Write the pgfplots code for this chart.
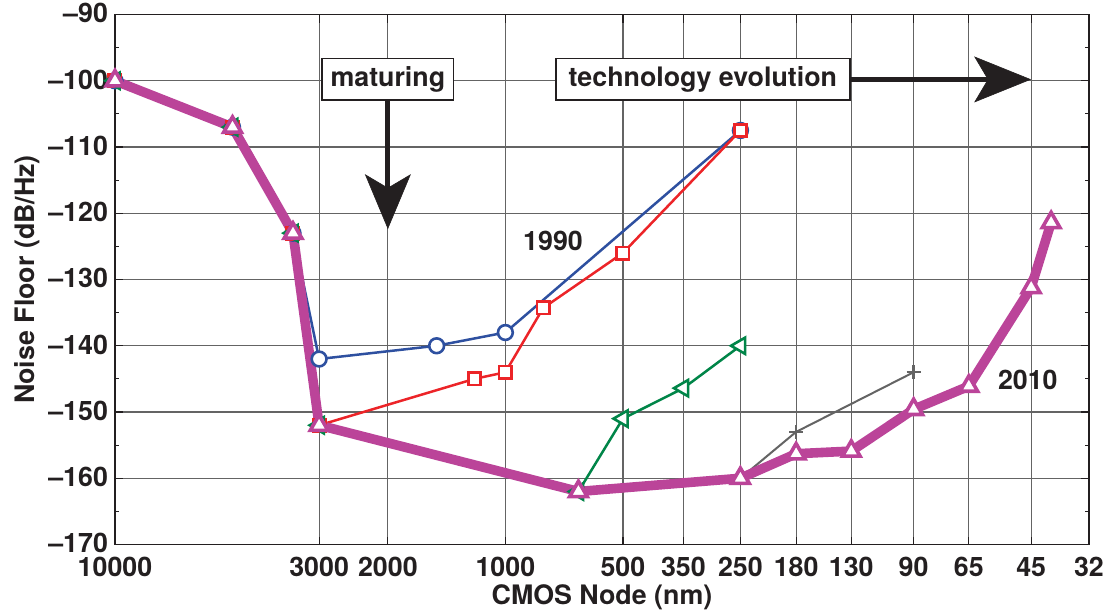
\documentclass[border=0pt]{standalone}
\usepackage{fontspec}
\setmainfont{TeX Gyre Heros}
\usepackage{pgfplots}
\pgfplotsset{compat=1.18}
\usetikzlibrary{arrows.meta}

\definecolor{ink}{RGB}{35,31,32}
\definecolor{nblue}{RGB}{46,80,160}
\definecolor{nred}{RGB}{236,36,40}
\definecolor{ngreen}{RGB}{0,133,72}
\definecolor{ngray}{RGB}{100,100,100}
\definecolor{nmag}{RGB}{187,68,153}
\definecolor{gridc}{RGB}{100,100,100}

\newcommand{\lbl}{\fontsize{13.4}{16}\selectfont\bfseries}

\begin{document}
\begin{tikzpicture}
\begin{axis}[
  scale only axis, width=487pt, height=265pt,
  xmode=log, log basis x=10, x dir=reverse,
  xmin=32, xmax=10000, ymin=-170, ymax=-90,
  clip=false,
  xtick={10000,3000,2000,1000,500,350,250,180,130,90,65,45,32},
  xticklabels={10000,3000,2000,1000,500,350,250,180,130,90,65,45,32},
  minor xtick={},
  ytick={-170,-160,...,-90},
  yticklabels={\textendash170,\textendash160,\textendash150,\textendash140,\textendash130,\textendash120,\textendash110,\textendash100,\textendash90},
  minor ytick={-165,-155,...,-95},
  /pgf/number format/assume math mode=true,
  grid=major,
  major grid style={gridc, line width=0.6pt},
  tick align=inside,
  major tick length=4pt, minor tick length=2.2pt,
  tick style={ink, line width=0.6pt},
  axis line style={ink, line width=0.85pt},
  ticklabel style={font=\lbl, text=ink},
  xticklabel style={inner ysep=0pt, yshift=-6.2pt},
  yticklabel style={inner ysep=0pt, yshift=0.6pt},
  label style={font=\lbl, text=ink},
  xlabel={CMOS Node (nm)},
  ylabel={Noise Floor (dB/Hz)},
  xlabel style={at={(axis description cs:0.5,-0.0986)}, anchor=center},
  ylabel style={at={(axis description cs:-0.0903,0.5)}, anchor=center},
]

% 1990 process generation
\addplot[nblue, line width=1.25pt, mark=*, mark size=3.7pt,
  mark options={fill=white, draw=nblue, line width=1.3pt}] coordinates {
  (10000,-100) (5000,-107) (3500,-123) (3000,-142)
  (1500,-140) (1000,-138) (250,-107.5)
};

\addplot[nred, line width=1.25pt, mark=square*, mark size=3.1pt,
  mark options={fill=white, draw=nred, line width=1.3pt}] coordinates {
  (10000,-100) (5000,-107) (3500,-123) (3000,-152)
  (1200,-145) (1000,-144) (800,-134.3) (500,-126) (250,-107.5)
};

\addplot[ngreen, line width=1.25pt, mark=triangle*, mark size=4.7pt,
  mark options={fill=white, draw=ngreen, line width=1.3pt, rotate=90}] coordinates {
  (10000,-100) (5000,-107) (3500,-123) (3000,-152)
  (650,-162) (500,-151) (350,-146.4) (250,-140)
};

\addplot[ngray, line width=1pt, mark=+, mark size=3.5pt,
  mark options={ngray, line width=1.2pt}] coordinates {
  (250,-160) (180,-153) (90,-144)
};

% 2010 process generation
\addplot[nmag, line width=4.8pt, mark=triangle*, mark size=5.1pt,
  mark options={fill=white, draw=nmag, line width=1.8pt}] coordinates {
  (10000,-100) (5000,-107) (3500,-123) (3000,-152) (650,-162)
  (250,-160) (180,-156.3) (130,-155.9) (90,-149.6) (65,-146.1)
  (45,-131.2) (40,-121.4)
};

\node[font=\lbl, text=ink] at (axis cs:755,-124.2) {1990};
\node[font=\lbl, text=ink] at (axis cs:45.9,-145.2) {2010};

\node[draw=ink, line width=0.75pt, fill=white, text=ink, font=\lbl,
  minimum width=65.8pt, minimum height=20.8pt, inner sep=0pt]
  (mat) at (axis cs:2000,-99.8) {maturing};
\draw[ink, line width=2.5pt,
  -{Stealth[length=27.5pt, width=23pt, inset=6.8pt, line width=0.3pt]}]
  (mat.south) -- (axis cs:2000,-122.4);

\node[draw=ink, line width=0.75pt, fill=white, text=ink, font=\lbl,
  minimum width=147pt, minimum height=20.8pt, inner sep=0pt]
  (tech) at (axis cs:312,-99.8) {technology evolution};
\draw[ink, line width=2.6pt,
  -{Stealth[length=28.5pt, width=23pt, inset=6.8pt, line width=0.3pt]}]
  (tech.east) -- (axis cs:45,-99.8);

\end{axis}
\pgfresetboundingbox
\path (-57.5pt,-33.65pt) rectangle (500.5pt,272.25pt);
\end{tikzpicture}
\end{document}
